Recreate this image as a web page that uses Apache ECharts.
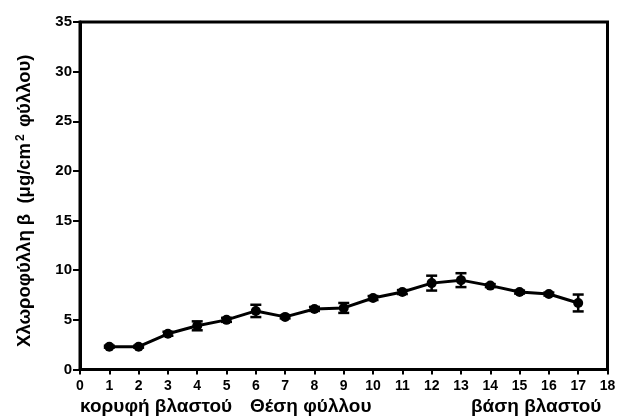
<!DOCTYPE html>
<html><head><meta charset="utf-8">
<script src="https://cdn.jsdelivr.net/npm/echarts@6/dist/echarts.min.js"></script>
<style>html,body{margin:0;padding:0;background:#fff}#c{width:619px;height:418px}</style>
</head><body><div id="c"></div>
<script>
const positions = [1,2,3,4,5,6,7,8,9,10,11,12,13,14,15,16,17];
const values = [2.3,2.3,3.6,4.4,5.0,5.9,5.3,6.1,6.2,7.2,7.8,8.7,9.0,8.45,7.8,7.6,6.7];
const errors = [0.1,0.1,0.2,0.45,0.2,0.62,0.15,0.2,0.5,0.2,0.2,0.75,0.7,0.15,0.15,0.15,0.85];
const xLabelLeft = 'κορυφή βλαστού';
const xLabelMid = 'Θέση φύλλου';
const xLabelRight = 'βάση βλαστού';

const font = 'Liberation Sans, Arial, sans-serif';
const chart = echarts.init(document.getElementById('c'));
const lineData = positions.map((p,i)=>[p, values[i]]);
const errData = positions.map((p,i)=>[p, values[i]-errors[i], values[i]+errors[i]]);
chart.setOption({
  animation:false,
  grid:{left:80,right:11.5,top:22,bottom:48.5,show:true,borderColor:'#000',borderWidth:3,backgroundColor:'transparent'},
  xAxis:{type:'value',min:0,max:18,interval:1,
    axisLine:{lineStyle:{color:'#000',width:3}},
    axisTick:{show:true,length:5,lineStyle:{color:'#000',width:2}},
    axisLabel:{color:'#000',fontWeight:'bold',fontSize:14,fontFamily:font,margin:10},
    splitLine:{show:false}},
  yAxis:{type:'value',min:0,max:35,interval:5,
    axisLine:{show:true,lineStyle:{color:'#000',width:3}},
    axisTick:{show:true,length:7,lineStyle:{color:'#000',width:2}},
    axisLabel:{color:'#000',fontWeight:'bold',fontSize:15,fontFamily:font,margin:8},
    splitLine:{show:false},
    name:'{a|Χλωροφύλλη β  (μg/cm}{s|2}{a| φύλλου)}',
    nameLocation:'middle',nameRotate:90,nameGap:46,
    nameTextStyle:{padding:[0,10,0,0],rich:{
      a:{fontSize:18.5,fontWeight:'bold',fontFamily:font,color:'#000'},
      s:{fontSize:12,fontWeight:'bold',fontFamily:font,color:'#000',verticalAlign:'top',lineHeight:12,padding:[0,2,10,2]}
    }}
  },
  graphic:[
    {type:'text',left:80,top:397,style:{text:xLabelLeft,font:'bold 19px '+font,fill:'#000'}},
    {type:'text',left:250,top:397,style:{text:xLabelMid,font:'bold 19px '+font,fill:'#000'}},
    {type:'text',left:471,top:397,style:{text:xLabelRight,font:'bold 19px '+font,fill:'#000'}}
  ],
  series:[
    {type:'custom',data:errData,z:3,
     renderItem:function(params,api){
       const x=api.value(0);
       const lo=api.coord([x,api.value(1)]);
       const hi=api.coord([x,api.value(2)]);
       const w=5.5;
       const st={stroke:'#000',lineWidth:2.5};
       return {type:'group',children:[
         {type:'line',shape:{x1:lo[0],y1:lo[1],x2:hi[0],y2:hi[1]},style:st},
         {type:'line',shape:{x1:lo[0]-w,y1:lo[1],x2:lo[0]+w,y2:lo[1]},style:st},
         {type:'line',shape:{x1:hi[0]-w,y1:hi[1],x2:hi[0]+w,y2:hi[1]},style:st}
       ]};
     }},
    {type:'line',data:lineData,z:4,symbol:'circle',symbolSize:10,
     lineStyle:{color:'#000',width:3},itemStyle:{color:'#000'}}
  ]
});
</script></body></html>
